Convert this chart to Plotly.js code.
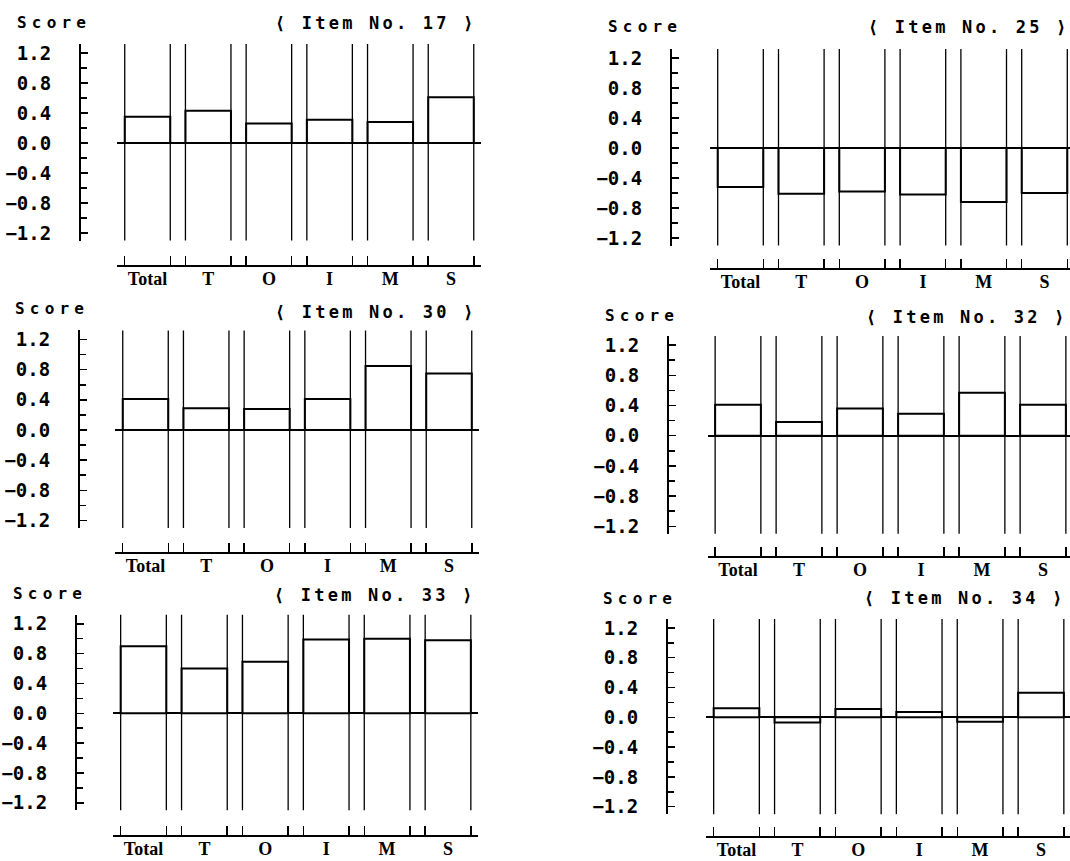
<!DOCTYPE html>
<html>
<head>
<meta charset="utf-8">
<script src="https://cdn.plot.ly/plotly-3.0.1.min.js"></script>
<style>
  html, body { margin: 0; padding: 0; background: #fff; }
  #chart { width: 1070px; height: 861px; }
  text[style*="DejaVu Sans Mono"][style*="font-size: 17px"] { letter-spacing: 3.2px; }
  text[style*="DejaVu Sans Mono"][style*="font-size: 16px"] { letter-spacing: 5.2px; }
</style>
</head>
<body>
<div id="chart"></div>
<script>
// ---- data ----
const categories = ["Total", "T", "O", "I", "M", "S"];
const itemNumbers = ["17", "25", "30", "32", "33", "34"];
const item17 = [0.35, 0.43, 0.26, 0.31, 0.28, 0.61];
const item25 = [-0.52, -0.61, -0.58, -0.62, -0.72, -0.60];
const item30 = [0.41, 0.29, 0.28, 0.41, 0.85, 0.75];
const item32 = [0.41, 0.18, 0.36, 0.29, 0.57, 0.41];
const item33 = [0.90, 0.60, 0.69, 0.99, 1.00, 0.98];
const item34 = [0.12, -0.07, 0.11, 0.07, -0.06, 0.33];
const yTickVals = [-1.2, -0.8, -0.4, 0.0, 0.4, 0.8, 1.2];
const yMinorVals = [-1.0, -0.6, -0.2, 0.2, 0.6, 1.0];
const yAxisTitle = "Score";

const series = [item17, item25, item30, item32, item33, item34];

// ---- layout geometry (pixels) ----
const W = 1070, H = 861;
const BAR_W = 0.75;
const Y_RANGE = [-1.3, 1.32];
const panels = [
  {yx: 80,  c0: 147.5, sp: 60.7, zero: 143,   scale: 75,   xline: 265, scoreX: 15,  scoreY: 22,  titleX: 273, titleY: 23},
  {yx: 671, c0: 740.5, sp: 60.8, zero: 148,   scale: 75,   xline: 268, scoreX: 606, scoreY: 27,  titleX: 866, titleY: 27},
  {yx: 79,  c0: 145.5, sp: 60.7, zero: 430,   scale: 75.4, xline: 552, scoreX: 13,  scoreY: 309, titleX: 273, titleY: 312},
  {yx: 668, c0: 738,   sp: 61,   zero: 435.7, scale: 75.5, xline: 556, scoreX: 603, scoreY: 315, titleX: 864, titleY: 317},
  {yx: 76,  c0: 143.5, sp: 60.9, zero: 713.3, scale: 74.6, xline: 835, scoreX: 11,  scoreY: 593, titleX: 272, titleY: 595},
  {yx: 667, c0: 736.5, sp: 60.9, zero: 717.3, scale: 74.5, xline: 836, scoreX: 601, scoreY: 598, titleX: 862, titleY: 598}
];

const fmt = v => (v < 0 ? "\u2212" : "") + Math.abs(v).toFixed(1);
const idx = categories.map((c, i) => i);
const edges = [];
idx.forEach(i => { edges.push(i - BAR_W / 2, i + BAR_W / 2); });

const traces = [];
const shapes = [];
const annotations = [];
const layout = {
  width: W, height: H,
  margin: {l: 0, r: 0, t: 0, b: 0},
  paper_bgcolor: "#fff",
  plot_bgcolor: "rgba(0,0,0,0)",
  showlegend: false,
  bargap: 0.25,
  shapes: shapes,
  annotations: annotations
};

panels.forEach((p, k) => {
  const n = k + 1;
  const xa = n === 1 ? "x" : "x" + n;
  const ya = n === 1 ? "y" : "y" + n;
  const xKey = n === 1 ? "xaxis" : "xaxis" + n;
  const yKey = n === 1 ? "yaxis" : "yaxis" + n;

  let left = p.c0 - 0.5 * p.sp;
  let right = p.c0 + 5.5 * p.sp;
  let xr1 = 5.5;
  if (right > W) { right = W; xr1 = (W - p.c0) / p.sp; }
  const top = p.zero - Y_RANGE[1] * p.scale;
  const bot = p.zero - Y_RANGE[0] * p.scale;

  traces.push({
    type: "bar",
    x: idx,
    y: series[k],
    width: BAR_W,
    xaxis: xa, yaxis: ya,
    marker: {color: "#fff", line: {color: "#000", width: 2}},
    hoverinfo: "x+y"
  });

  layout[xKey] = {
    domain: [left / W, right / W],
    range: [-0.5, xr1],
    anchor: "free",
    position: 1 - p.xline / H,
    showgrid: false,
    zeroline: false,
    showline: true,
    linecolor: "#000",
    linewidth: 1.6,
    tickmode: "array",
    tickvals: idx,
    ticktext: categories,
    ticks: "",
    ticklabelstandoff: -3,
    tickfont: {family: "Liberation Serif", size: 18, color: "#000", weight: "bold"},
    minor: {tickvals: edges, ticks: "inside", ticklen: 9, tickwidth: 1.5, tickcolor: "#000"},
    fixedrange: true
  };

  layout[yKey] = {
    domain: [1 - bot / H, 1 - top / H],
    range: Y_RANGE,
    anchor: "free",
    position: p.yx / W,
    showgrid: false,
    zeroline: true,
    zerolinecolor: "#000",
    zerolinewidth: 1.8,
    showline: true,
    linecolor: "#000",
    linewidth: 2,
    tickmode: "array",
    tickvals: yTickVals,
    ticktext: yTickVals.map(fmt),
    ticks: "inside",
    ticklen: 7,
    tickwidth: 1.5,
    tickcolor: "#000",
    ticklabelstandoff: 24,
    tickfont: {family: "DejaVu Sans Mono", size: 19, color: "#000", weight: "bold"},
    minor: {tickvals: yMinorVals, ticks: "inside", ticklen: 6, tickwidth: 1.5, tickcolor: "#000"},
    fixedrange: true
  };

  // vertical lines at each bar edge spanning the full plot height
  edges.forEach(e => {
    shapes.push({
      type: "line", xref: xa, yref: ya + " domain",
      x0: e, x1: e, y0: 0, y1: 1,
      line: {color: "#000", width: 1.3}
    });
  });

  annotations.push({
    text: yAxisTitle, xref: "paper", yref: "paper",
    x: p.scoreX / W, y: 1 - p.scoreY / H,
    xanchor: "left", yanchor: "middle", showarrow: false,
    font: {family: "DejaVu Sans Mono", size: 16, color: "#000", weight: "bold"}
  });
  annotations.push({
    text: "\u27E8 Item No. " + itemNumbers[k] + " \u27E9", xref: "paper", yref: "paper",
    x: p.titleX / W, y: 1 - p.titleY / H,
    xanchor: "left", yanchor: "middle", showarrow: false,
    font: {family: "DejaVu Sans Mono", size: 17, color: "#000", weight: "bold"}
  });
});

Plotly.newPlot("chart", traces, layout, {staticPlot: true});
</script>
</body>
</html>
